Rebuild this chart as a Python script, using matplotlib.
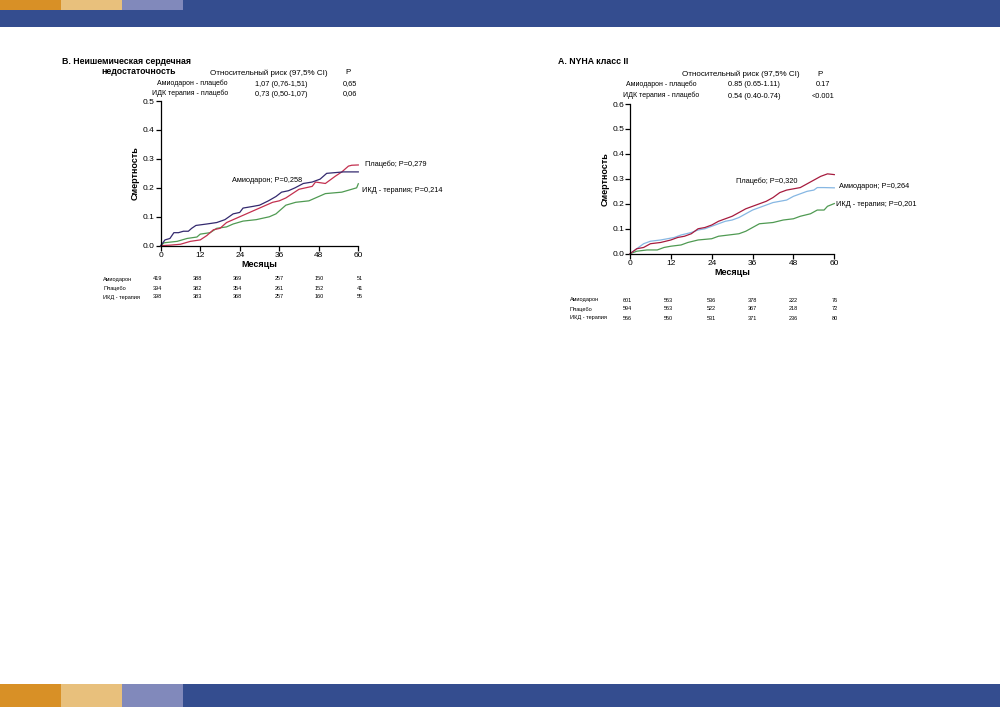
import matplotlib
matplotlib.use("Agg")
import matplotlib.pyplot as plt
from matplotlib.patches import Rectangle

plt.rcParams['font.family'] = ['Liberation Sans', 'DejaVu Sans']

# ---------------- Data ----------------
months_ticks = [0, 12, 24, 36, 48, 60]

# Left chart: B. Non-ischemic HF
L_amio_m = [0, 1.3, 2.8, 4, 5.4, 6.9, 8.4, 9.4, 10.7, 14, 17, 19.5, 22, 24, 25, 27.6, 30, 32.7, 35, 36.7, 38.8, 40.8, 43.3, 46, 48.4, 50.4, 55.5, 60]
L_amio_v = [0, 0.02, 0.025, 0.045, 0.045, 0.05, 0.05, 0.06, 0.07, 0.075, 0.08, 0.09, 0.11, 0.115, 0.13, 0.135, 0.14, 0.155, 0.17, 0.185, 0.19, 0.2, 0.215, 0.22, 0.23, 0.25, 0.255, 0.255]
L_plac_m = [0, 3, 6, 9, 12, 14, 16, 18, 20, 22, 24, 26, 28, 30, 32, 34, 36, 38, 40, 42, 44, 46, 47, 50, 53, 55, 57, 58, 60]
L_plac_v = [0, 0.002, 0.005, 0.015, 0.02, 0.035, 0.055, 0.06, 0.08, 0.09, 0.1, 0.11, 0.12, 0.13, 0.14, 0.15, 0.155, 0.165, 0.18, 0.195, 0.2, 0.205, 0.22, 0.215, 0.24, 0.255, 0.275, 0.278, 0.279]
L_icd_m = [0, 1, 5, 8, 11, 12, 15, 17, 20, 22, 25, 29, 33, 35, 37, 38, 41, 45, 47, 50, 55, 59.5, 60]
L_icd_v = [0, 0.01, 0.015, 0.025, 0.03, 0.04, 0.045, 0.06, 0.065, 0.075, 0.085, 0.09, 0.1, 0.11, 0.13, 0.14, 0.15, 0.155, 0.165, 0.18, 0.185, 0.2, 0.214]

# Right chart: A. NYHA class II
R_plac_m = [0, 2, 4, 6, 9, 12, 14, 16, 18, 20, 22, 24, 26, 28, 30, 32, 34, 36, 38, 40, 42, 44, 46, 48, 50, 52, 54, 56, 58, 60]
R_plac_v = [0, 0.02, 0.025, 0.04, 0.045, 0.055, 0.065, 0.07, 0.08, 0.1, 0.105, 0.115, 0.13, 0.14, 0.15, 0.165, 0.18, 0.19, 0.2, 0.21, 0.225, 0.245, 0.255, 0.26, 0.265, 0.28, 0.295, 0.31, 0.32, 0.317]
R_amio_m = [0, 2, 4, 6, 9, 11, 13, 15, 18, 20, 22, 24, 26, 28, 30, 32, 34, 36, 38, 40, 42, 44, 46, 48, 50, 52, 54, 55, 57, 60]
R_amio_v = [0, 0.02, 0.04, 0.05, 0.055, 0.06, 0.065, 0.075, 0.085, 0.095, 0.1, 0.11, 0.12, 0.13, 0.135, 0.145, 0.16, 0.175, 0.185, 0.195, 0.205, 0.21, 0.215, 0.23, 0.24, 0.25, 0.255, 0.265, 0.265, 0.264]
R_icd_m = [0, 2, 5, 8, 10, 12, 15, 17, 20, 24, 26, 29, 32, 34, 36, 38, 42, 45, 48, 50, 53, 55, 57, 58, 60]
R_icd_v = [0, 0.01, 0.015, 0.015, 0.025, 0.03, 0.035, 0.045, 0.055, 0.06, 0.07, 0.075, 0.08, 0.09, 0.105, 0.12, 0.125, 0.135, 0.14, 0.15, 0.16, 0.175, 0.175, 0.19, 0.201]

row_labels = ['Амиодарон', 'Плацебо', 'ИКД - терапия']
L_at_risk = [[419, 388, 369, 257, 150, 51],
             [394, 382, 354, 261, 152, 41],
             [398, 383, 368, 257, 160, 55]]
R_at_risk = [[601, 563, 536, 378, 222, 76],
             [594, 563, 522, 367, 218, 72],
             [566, 550, 531, 371, 236, 80]]

# ---------------- Figure ----------------
W, H = 1000, 707
fig = plt.figure(figsize=(10, 7.07), dpi=100)

def T(x, y, s, **kw):
    kw.setdefault('va', 'center')
    kw.setdefault('fontsize', 5.5)
    return fig.text(x / W, 1 - y / H, s, **kw)

def axes_px(x0, y0, x1, y1):
    return fig.add_axes([x0 / W, 1 - y1 / H, (x1 - x0) / W, (y1 - y0) / H])

# header / footer bars
blue = '#344d8f'
bar = fig.add_axes([0, 0, 1, 1], zorder=-5)
bar.set_xlim(0, W); bar.set_ylim(H, 0); bar.axis('off')
bar.add_patch(Rectangle((0, 0), W, 27, color=blue, lw=0))
bar.add_patch(Rectangle((0, 684), W, 23, color=blue, lw=0))
for i, c in enumerate(['#d89026', '#e8c07c', '#8189bb']):
    bar.add_patch(Rectangle((i * 61, 0), 61, 10, color=c, lw=0))
    bar.add_patch(Rectangle((i * 61, 684), 61, 23, color=c, lw=0))

def style_axes(ax, ymax):
    ax.set_xlim(0, 60)
    ax.set_ylim(0, ymax)
    ax.set_xticks(months_ticks)
    yt = [round(0.1 * i, 1) for i in range(int(round(ymax * 10)) + 1)]
    ax.set_yticks(yt)
    ax.set_yticklabels([f'{v:.1f}' for v in yt])
    for s in ['top', 'right']:
        ax.spines[s].set_visible(False)
    for s in ['left', 'bottom']:
        ax.spines[s].set_linewidth(0.9)
    ax.tick_params(length=3.5, width=0.9, labelsize=6, pad=0.8)
    ax.patch.set_alpha(0)

# ---- Left chart ----
axL = axes_px(160.7, 101, 358.3, 245.7)
style_axes(axL, 0.5)
axL.plot(L_icd_m, L_icd_v, color='#4f9a52', lw=0.9, clip_on=False)
axL.plot(L_plac_m, L_plac_v, color='#c3304f', lw=0.9, clip_on=False)
axL.plot(L_amio_m, L_amio_v, color='#33296e', lw=0.9, clip_on=False)
axL.set_ylabel('Смертность', fontsize=6.5, fontweight='bold', labelpad=2)
axL.set_xlabel('Месяцы', fontsize=6.5, fontweight='bold', labelpad=1)

T(62, 61, 'B. Неишемическая сердечная', fontsize=6.3, fontweight='bold')
T(101, 71, 'недостаточность', fontsize=6.3, fontweight='bold')
T(269, 73, 'Относительный риск (97,5% CI)', ha='center', fontsize=5.8)
T(348, 73, 'P', ha='center', fontsize=5.8)
T(228, 83, 'Амиодарон - плацебо', ha='right', fontsize=5)
T(281, 84, '1,07 (0,76-1,51)', ha='center', fontsize=5.3)
T(350, 84, '0,65', ha='center', fontsize=5.3)
T(228, 93, 'ИДК терапия - плацебо', ha='right', fontsize=5)
T(281, 94, '0,73 (0,50-1,07)', ha='center', fontsize=5.3)
T(350, 94, '0,06', ha='center', fontsize=5.3)

T(365, 164, 'Плацебо; P=0,279', fontsize=5.3)
T(302, 181, 'Амиодарон; P=0,258', ha='right', fontsize=5.3)
T(362, 190, 'ИКД - терапия; P=0,214', fontsize=5.3)

L_cols = [153, 193, 233, 275, 315, 357]
for r, (lab, vals) in enumerate(zip(row_labels, L_at_risk)):
    y = 279 + r * 9
    T(103, y, lab, fontsize=4)
    for x, v in zip(L_cols, vals):
        T(x, y, str(v), fontsize=4)

# ---- Right chart ----
axR = axes_px(630, 104, 834.3, 253.7)
style_axes(axR, 0.6)
axR.plot(R_icd_m, R_icd_v, color='#4f9a52', lw=0.9, clip_on=False)
axR.plot(R_amio_m, R_amio_v, color='#86b7e3', lw=0.9, clip_on=False)
axR.plot(R_plac_m, R_plac_v, color='#a61b3e', lw=0.9, clip_on=False)
axR.set_ylabel('Смертность', fontsize=6.5, fontweight='bold', labelpad=2)
axR.set_xlabel('Месяцы', fontsize=6.5, fontweight='bold', labelpad=1)

T(558, 61, 'A. NYHA класс II', fontsize=6.3, fontweight='bold')
T(741, 74, 'Относительный риск (97,5% CI)', ha='center', fontsize=5.8)
T(820, 74, 'P', ha='center', fontsize=5.8)
T(697, 84, 'Амиодарон - плацебо', ha='right', fontsize=5)
T(754, 85, '0.85 (0.65-1.11)', ha='center', fontsize=5.3)
T(823, 85, '0.17', ha='center', fontsize=5.3)
T(699, 95, 'ИДК терапия - плацебо', ha='right', fontsize=5)
T(754, 96, '0.54 (0.40-0.74)', ha='center', fontsize=5.3)
T(823, 96, '<0.001', ha='center', fontsize=5.3)

T(798, 181, 'Плацебо; P=0,320', ha='right', fontsize=5.3)
T(839, 187, 'Амиодарон; P=0,264', fontsize=5.3)
T(836, 205, 'ИКД - терапия; P=0,201', fontsize=5.3)

R_cols = [623, 664, 707, 748, 789, 832]
for r, (lab, vals) in enumerate(zip(row_labels, R_at_risk)):
    y = 300 + r * 9
    T(570, y, lab, fontsize=4)
    for x, v in zip(R_cols, vals):
        T(x, y, str(v), fontsize=4)

fig.savefig('out.png', dpi=100)
